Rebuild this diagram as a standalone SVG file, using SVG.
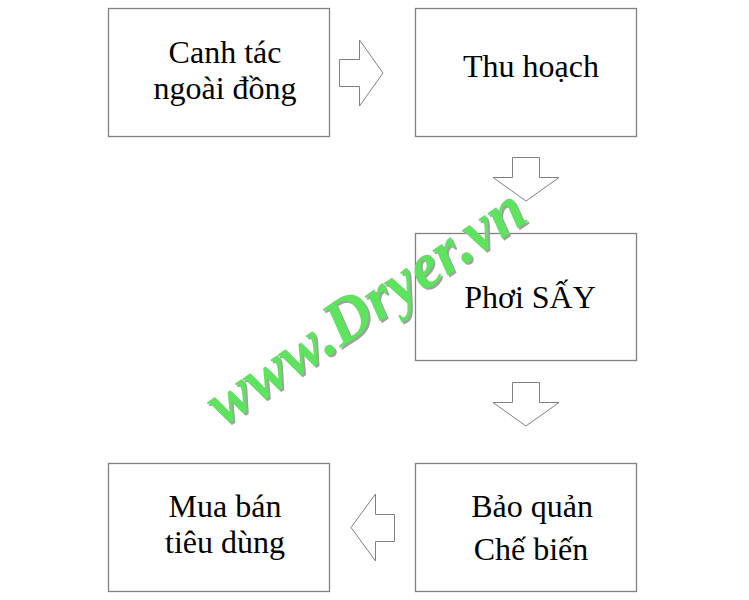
<svg xmlns="http://www.w3.org/2000/svg" width="749" height="600" viewBox="0 0 749 600">
<style>
.box{fill:#fff;stroke:#808080;stroke-width:1.3}
.lbl{font-family:"Liberation Serif","Times New Roman",serif;font-size:32px;fill:#000;text-anchor:middle}
.arr{fill:#fff;stroke:#808080;stroke-width:1}
.wm{font-family:"Liberation Serif","Times New Roman",serif;font-size:64px;font-weight:bold;font-style:italic}
</style>
<rect width="749" height="600" fill="#fff"/>
<g id="node-canh-tac">
<rect class="box" x="108.5" y="8.5" width="221" height="128"/>
<text class="lbl" x="225" y="63">Canh tác</text>
<text class="lbl" x="225" y="99">ngoài đồng</text>
</g>
<g id="node-thu-hoach">
<rect class="box" x="415.5" y="8.5" width="221" height="128"/>
<text class="lbl" x="531" y="77">Thu hoạch</text>
</g>
<g id="node-phoi-say">
<rect class="box" x="415.5" y="233.5" width="221" height="127"/>
<text class="lbl" x="530" y="308">Phơi SẤY</text>
</g>
<g id="node-bao-quan">
<rect class="box" x="415.5" y="463.5" width="221" height="128"/>
<text class="lbl" x="532" y="517">Bảo quản</text>
<text class="lbl" x="531" y="560">Chế biến</text>
</g>
<g id="node-mua-ban">
<rect class="box" x="108.5" y="463.5" width="221" height="128"/>
<text class="lbl" x="225" y="517">Mua bán</text>
<text class="lbl" x="225" y="553">tiêu dùng</text>
</g>
<g id="connectors">
<polygon class="arr" points="339.5,59.5 359.5,59.5 359.5,40 383,73 359.5,106 359.5,86.5 339.5,86.5"/>
<polygon class="arr" points="512.5,157.5 539.5,157.5 539.5,177.5 559,177.5 526,201 493,177.5 512.5,177.5"/>
<polygon class="arr" points="512.5,382.5 539.5,382.5 539.5,402.5 559,402.5 526,426 493,402.5 512.5,402.5"/>
<polygon class="arr" points="394.5,514.5 375.5,514.5 375.5,494 351,527.5 375.5,561 375.5,541.5 394.5,541.5"/>
</g>
<g id="watermark">
<text class="wm" transform="translate(225,429) rotate(-34)" fill="#a0a0a0">www.Dryer.vn</text>
<text class="wm" transform="translate(223,427) rotate(-34)" fill="#5ee35e">www.Dryer.vn</text>
</g>
</svg>
